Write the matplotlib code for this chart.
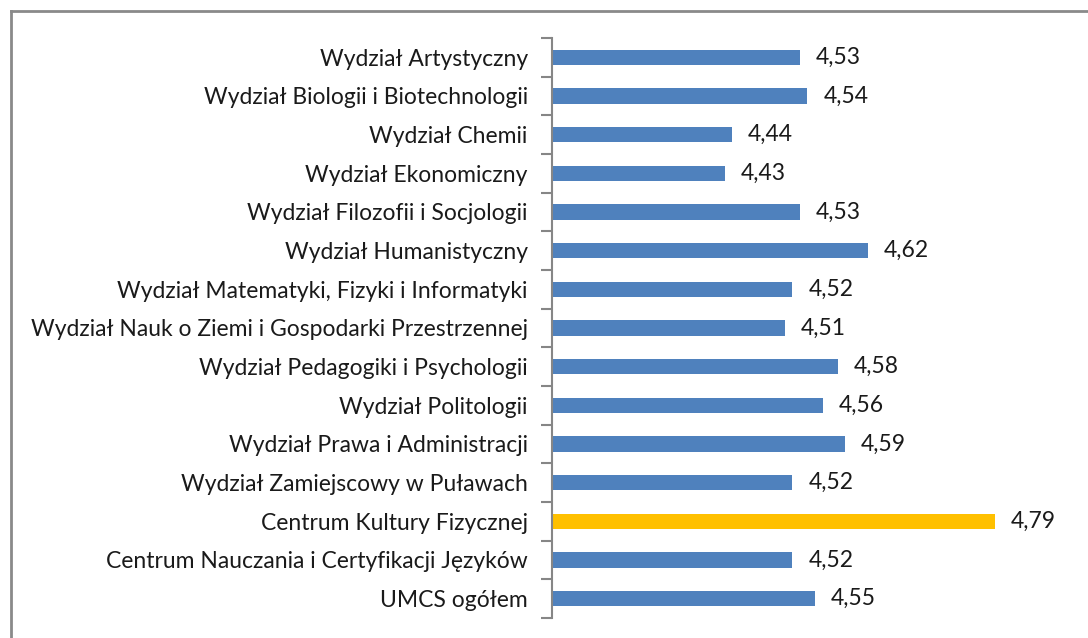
import matplotlib.pyplot as plt
from matplotlib.lines import Line2D
import numpy as np

labels = ["Wydział Artystyczny",
          "Wydział Biologii i Biotechnologii",
          "Wydział Chemii",
          "Wydział Ekonomiczny",
          "Wydział Filozofii i Socjologii",
          "Wydział Humanistyczny",
          "Wydział Matematyki, Fizyki i Informatyki",
          "Wydział Nauk o Ziemi i Gospodarki Przestrzennej",
          "Wydział Pedagogiki i Psychologii",
          "Wydział Politologii",
          "Wydział Prawa i Administracji",
          "Wydział Zamiejscowy w Puławach",
          "Centrum Kultury Fizycznej",
          "Centrum Nauczania i Certyfikacji Języków",
          "UMCS ogółem"]
values = [4.53, 4.54, 4.44, 4.43, 4.53, 4.62, 4.52, 4.51, 4.58, 4.56, 4.59, 4.52, 4.79, 4.52, 4.55]
highlight = "Centrum Kultury Fizycznej"

plt.rcParams['font.family'] = ['Lato', 'DejaVu Sans']
W, H = 1088, 638
fig = plt.figure(figsize=(W / 100, H / 100), dpi=100)
ax = fig.add_axes([552 / W, 1 - 618 / H, (1078 - 552) / W, (618 - 38) / H])

n = len(labels)
y = np.arange(n)
colors = ["#FFC000" if l == highlight else "#4F81BD" for l in labels]
ax.barh(y, [v - 4.2 for v in values], left=4.2, height=0.4, color=colors)
for yi, v in zip(y, values):
    ax.text(v + 0.021, yi, f"{v:.2f}".replace(".", ","), va="center", ha="left",
            fontsize=16.5, color="#1a1a1a")

ax.set_xlim(4.2, 4.9)
ax.set_ylim(n - 0.5, -0.5)
ax.set_yticks(y)
ax.set_yticklabels(labels, fontsize=16.5, color="#1a1a1a")
ax.set_yticks(np.arange(n + 1) - 0.5, minor=True)
ax.tick_params(axis="y", which="major", length=0, pad=17.5)
ax.tick_params(axis="y", which="minor", length=8, width=1.5, color="#868686")
ax.set_xticks([])
for s in ["top", "right", "bottom"]:
    ax.spines[s].set_visible(False)
ax.spines["left"].set_color("#868686")
ax.spines["left"].set_linewidth(1.5)

# outer chart frame (top and left edges only visible)
fig.add_artist(Line2D([11 / W, 11 / W], [0, 1 - 11 / H], transform=fig.transFigure,
                      color="#8a8a8a", lw=2))
fig.add_artist(Line2D([11 / W, 1], [1 - 11 / H, 1 - 11 / H], transform=fig.transFigure,
                      color="#8a8a8a", lw=2))

fig.savefig("out.png", dpi=100)
